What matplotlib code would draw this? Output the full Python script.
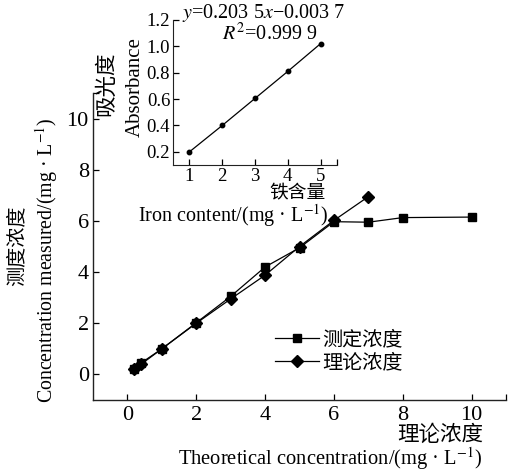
import matplotlib
matplotlib.use("Agg")
import matplotlib.pyplot as plt

plt.rcParams['font.family'] = ['Liberation Serif', 'Noto Sans CJK SC']
plt.rcParams['mathtext.fontset'] = 'stix'

# Main chart: measured vs theoretical concentration
theory_x = [0.2, 0.4, 1, 2, 3, 4, 5, 6, 7, 8, 10]
measured_y = [0.2, 0.45, 1.0, 2.02, 3.05, 4.2, 4.95, 5.97, 5.95, 6.13, 6.15]
ideal_x = [0.2, 0.4, 1, 2, 3, 4, 5, 6, 7]
ideal_y = [0.2, 0.4, 1.0, 2.0, 2.95, 3.88, 5.0, 6.02, 6.95]

# Inset: standard curve of absorbance vs iron content
iron = [1, 2, 3, 4, 5]
absorbance = [0.2, 0.4, 0.605, 0.81, 1.02]

fig = plt.figure(figsize=(5.18, 4.73), dpi=100)

ax = fig.add_axes([0.1795, 0.1543, 0.7975, 0.6491])
ax.plot(theory_x, measured_y, color='black', lw=0.9, marker='s', ms=6.3,
        label='测定浓度')
ax.plot(ideal_x, ideal_y, color='black', lw=0.9, marker='D', ms=6.3,
        label='理论浓度')
ax.set_xlim(-1, 11)
ax.set_ylim(-1, 11)
ax.set_xticks([0, 2, 4, 6, 8, 10])
ax.set_yticks([0, 2, 4, 6, 8, 10])
ax.set_xticks([11], minor=True)
ax.set_yticks([11], minor=True)
for s in ['top', 'right']:
    ax.spines[s].set_visible(False)
for s in ['left', 'bottom']:
    ax.spines[s].set_linewidth(1.0)
    ax.spines[s].set_color('#222222')
ax.tick_params(which='both', direction='in', length=4, width=0.9,
               labelsize=16)
ax.tick_params(axis='y', pad=3)
ax.tick_params(axis='x', pad=4)
ax.legend(loc='upper left', bbox_to_anchor=(0.44, 0.224), frameon=False,
          fontsize=14.5, handlelength=2.2, handletextpad=0.15,
          labelspacing=0.2, borderaxespad=0, borderpad=0)

fig.text(0.932, 0.08, '理论浓度', ha='right', va='center', fontsize=15.5)
fig.text(0.932, 0.031, r'Theoretical concentration/(mg · L$^{-1}$)',
         ha='right', va='center', fontsize=14.8)
fig.text(0.035, 0.48, '测度浓度', ha='center', va='center', rotation=90,
         fontsize=14.5)
fig.text(0.089, 0.45, r'Concentration measured/(mg · L$^{-1}$)',
         ha='center', va='center', rotation=90, fontsize=14.3)

# Inset axes
ins = fig.add_axes([0.334, 0.651, 0.3166, 0.307])
ins.plot(iron, absorbance, color='black', lw=0.9, marker='o', ms=3.2)
ins.set_xlim(0.5, 5.5)
ins.set_ylim(0.1, 1.2)
ins.set_xticks([1, 2, 3, 4, 5])
ins.set_yticks([0.2, 0.4, 0.6, 0.8, 1.0, 1.2])
ins.set_yticklabels(['0.2', '0.4', '0.6', '0.8', '1.0', '1.2'])
ins.set_xticks([5.5], minor=True)
for s in ['top', 'right']:
    ins.spines[s].set_visible(False)
for s in ['left', 'bottom']:
    ins.spines[s].set_color('#222222')
ins.patch.set_alpha(0)
ins.tick_params(which='both', direction='in', length=4, width=0.9,
                labelsize=13.5, pad=2)
ins.text(0.055, 1.045, r'$y$=0.203 5$x$−0.003 7', transform=ins.transAxes,
         ha='left', va='center', fontsize=14.5)
ins.text(0.30, 0.90, r'$R^2$=0.999 9', transform=ins.transAxes,
         ha='left', va='center', fontsize=14.5)

fig.text(0.575, 0.59, '铁含量', ha='center', va='center', fontsize=13.5)
fig.text(0.634, 0.545, r'Iron content/(mg · L$^{-1}$)', ha='right',
         va='center', fontsize=14.5)
fig.text(0.207, 0.822, '吸光度', ha='center', va='center', rotation=90,
         fontsize=15.5)
fig.text(0.262, 0.816, 'Absorbance', ha='center', va='center', rotation=90,
         fontsize=15)

fig.savefig('out.png', dpi=100)
